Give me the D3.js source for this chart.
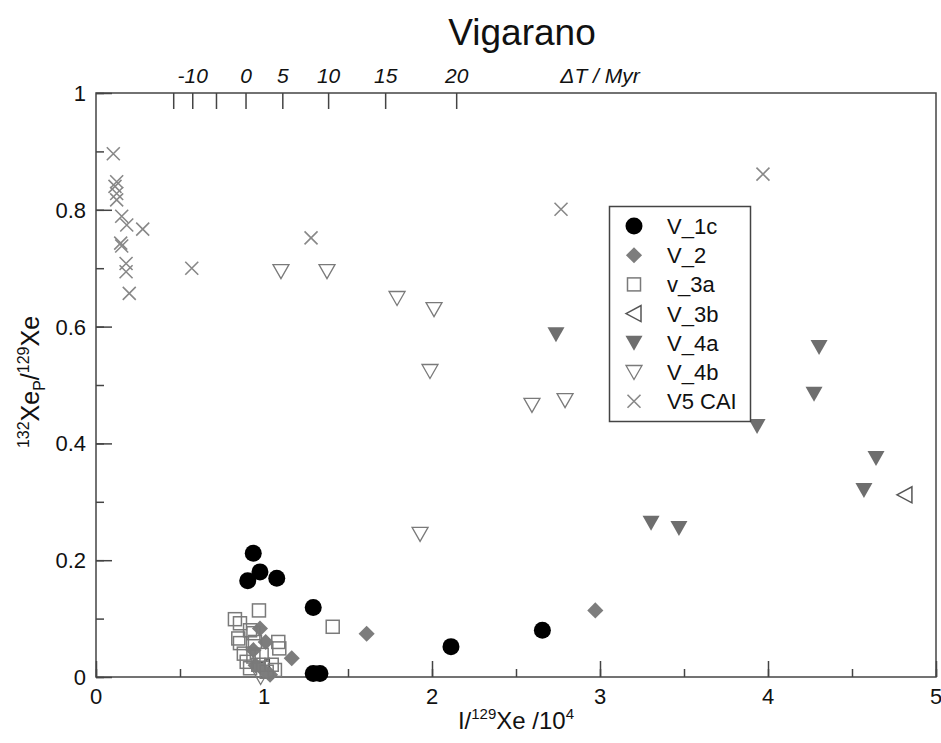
<!DOCTYPE html>
<html><head><meta charset="utf-8">
<script src="https://cdn.jsdelivr.net/npm/d3@7"></script>
<style>body{margin:0;background:#fff}text{font-family:"Liberation Sans",Arial,sans-serif}</style>
</head><body>
<svg id="c" width="941" height="743"></svg>
<script>
// ---- data ----
const V_1c_x = [0.936,0.903,0.976,1.076,1.293,1.293,1.333,2.113,2.657];
const V_1c_y = [0.212,0.165,0.180,0.169,0.119,0.006,0.006,0.052,0.080];
const V_2_x = [0.976,1.165,0.937,0.996,1.036,1.611,2.972,0.95,1.01];
const V_2_y = [0.083,0.032,0.046,0.012,0.004,0.074,0.114,0.020,0.060];
const v_3a_x = [0.970,0.827,0.857,1.409,0.847,0.857,0.937,0.946,1.085,1.091,0.897,0.917,0.937,0.986,1.046,1.065,1.016,0.966,0.917,0.88];
const v_3a_y = [0.114,0.099,0.092,0.086,0.066,0.058,0.075,0.060,0.060,0.049,0.026,0.015,0.035,0.038,0.021,0.012,0.009,0.021,0.080,0.040];
const V_3b_x = [4.815,0.99];
const V_3b_y = [0.312,0.018];
const V_4a_x = [2.738,4.304,4.274,3.935,4.643,4.571,3.304,3.470];
const V_4a_y = [0.587,0.565,0.485,0.430,0.375,0.320,0.264,0.255];
const V_4b_x = [1.101,1.375,1.792,2.012,1.988,2.595,2.792,1.929,0.98];
const V_4b_y = [0.695,0.695,0.649,0.630,0.524,0.466,0.474,0.245,0.0];
const V5_x = [0.103,0.123,0.113,0.123,0.123,0.153,0.183,0.278,0.147,0.153,0.179,0.179,0.198,0.570,1.280,2.768,3.970];
const V5_y = [0.896,0.848,0.840,0.828,0.817,0.789,0.774,0.767,0.743,0.738,0.708,0.694,0.657,0.700,0.752,0.801,0.861];
const seriesNames = ["V_1c","V_2","v_3a","V_3b","V_4a","V_4b","V5 CAI"];
const xTicks = [0,1,2,3,4,5];
const yTicks = [0,0.2,0.4,0.6,0.8,1];
const yTickLabels = ["0","0.2","0.4","0.6","0.8","1"];
const topTicks = [-15,-10,-5,0,5,10,15,20];
const topLabels = [-10,0,5,10,15,20];
const x0 = 0.893, tau = 22.8; // I-Xe age scale: x = x0*exp(dT/tau)

// ---- layout ----
const svg = d3.select("#c");
const L=96,R=936,T=93,B=677;
const x = d3.scaleLinear().domain([0,5]).range([L,R]);
const y = d3.scaleLinear().domain([0,1]).range([B,T]);
const axisCol="#444";

// title
svg.append("text").attr("x",522).attr("y",45).attr("text-anchor","middle")
  .attr("font-size",37).attr("fill","#111").text("Vigarano");

// axes (ticks inward)
const gx = svg.append("g").attr("transform",`translate(0,${B})`)
  .call(d3.axisTop(x).tickValues(d3.range(0,5.01,0.5)).tickSize(8).tickFormat(""));
const gxm = svg.append("g").attr("transform",`translate(0,${B})`)
  .call(d3.axisTop(x).tickValues(xTicks).tickSize(16).tickFormat(""));
const gy = svg.append("g").attr("transform",`translate(${L},0)`)
  .call(d3.axisRight(y).tickValues(d3.range(0,1.001,0.1)).tickSize(8).tickFormat(""));
const gym = svg.append("g").attr("transform",`translate(${L},0)`)
  .call(d3.axisRight(y).tickValues(yTicks).tickSize(16).tickFormat(""));
[gx,gxm,gy,gym].forEach(g=>{g.select(".domain").remove();g.selectAll("line").attr("stroke",axisCol).attr("stroke-width",1.5);});

// frame
svg.append("rect").attr("x",L).attr("y",T).attr("width",R-L).attr("height",B-T)
  .attr("fill","none").attr("stroke",axisCol).attr("stroke-width",1.5);

// tick labels
svg.append("g").selectAll("text").data(xTicks).join("text")
  .attr("x",d=>x(d)).attr("y",B+27).attr("text-anchor","middle").attr("font-size",22).attr("fill","#111").text(d=>d);
svg.append("g").selectAll("text").data(yTicks).join("text")
  .attr("x",L-10).attr("y",d=>y(d)+8).attr("text-anchor","end").attr("font-size",22).attr("fill","#111")
  .text((d,i)=>yTickLabels[i]);

// top ΔT axis
const tx = t => x(x0*Math.exp(t/tau));
svg.append("g").selectAll("line").data(topTicks).join("line")
  .attr("x1",tx).attr("x2",tx).attr("y1",T).attr("y2",T+16).attr("stroke",axisCol).attr("stroke-width",1.5);
svg.append("g").selectAll("text").data(topLabels).join("text")
  .attr("x",tx).attr("y",T-10).attr("text-anchor","middle").attr("font-size",21).attr("font-style","italic")
  .attr("fill","#111").text(d=>d);
svg.append("text").attr("x",600).attr("y",T-10).attr("text-anchor","middle").attr("font-size",21)
  .attr("font-style","italic").attr("fill","#111").text("\u0394T / Myr");

// axis titles
const xl = svg.append("text").attr("x",516).attr("y",729).attr("text-anchor","middle").attr("font-size",24).attr("fill","#111");
xl.append("tspan").text("I/");
xl.append("tspan").attr("font-size",15).attr("dy",-10).text("129");
xl.append("tspan").attr("dy",10).text("Xe /10");
xl.append("tspan").attr("font-size",15).attr("dy",-10).text("4");
const yl = svg.append("text").attr("transform","translate(39,382) rotate(-90)").attr("text-anchor","middle").attr("font-size",25).attr("fill","#111");
yl.append("tspan").attr("font-size",16).attr("dy",-10).text("132");
yl.append("tspan").attr("dy",10).text("Xe");
yl.append("tspan").attr("font-size",16).attr("dy",6).text("P");
yl.append("tspan").attr("dy",-6).text("/");
yl.append("tspan").attr("font-size",16).attr("dy",-10).text("129");
yl.append("tspan").attr("dy",10).text("Xe");

// markers
const gray="#7a7a7a";
function marker(g,type){
  if(type==="circle") g.append("circle").attr("r",8.5).attr("fill","#000");
  else if(type==="diamond") g.append("path").attr("d",d3.symbol(d3.symbolSquare,130)()).attr("transform","rotate(45)").attr("fill","#7d7d7d");
  else if(type==="square") g.append("rect").attr("x",-6.5).attr("y",-6.5).attr("width",13).attr("height",13).attr("fill","none").attr("stroke",gray).attr("stroke-width",1.5);
  else if(type==="left") g.append("path").attr("d","M-8,0L7,-8L7,8Z").attr("fill","none").attr("stroke","#555").attr("stroke-width",1.5);
  else if(type==="downFill") g.append("path").attr("d","M-8.5,-7L8.5,-7L0,8Z").attr("fill","#6e6e6e");
  else if(type==="downOpen") g.append("path").attr("d","M-8,-6.5L8,-6.5L0,7.5Z").attr("fill","none").attr("stroke",gray).attr("stroke-width",1.3);
  else if(type==="cross") g.append("path").attr("d","M-6.5,-6.5L6.5,6.5M-6.5,6.5L6.5,-6.5").attr("stroke","#888").attr("stroke-width",1.6);
}
const series = [
  {xs:V_1c_x,ys:V_1c_y,t:"circle"},
  {xs:V_2_x,ys:V_2_y,t:"diamond"},
  {xs:v_3a_x,ys:v_3a_y,t:"square"},
  {xs:V_3b_x,ys:V_3b_y,t:"left"},
  {xs:V_4a_x,ys:V_4a_y,t:"downFill"},
  {xs:V_4b_x,ys:V_4b_y,t:"downOpen"},
  {xs:V5_x,ys:V5_y,t:"cross"}
];
const drawOrder=[6,5,4,3,1,2,0];
drawOrder.forEach(si=>{
  const s=series[si];
  s.xs.forEach((xv,i)=>{
    const g=svg.append("g").attr("transform",`translate(${x(xv)},${y(s.ys[i])})`);
    marker(g,s.t);
  });
});

// legend
svg.append("rect").attr("x",609.5).attr("y",206.5).attr("width",141).attr("height",215)
  .attr("fill","#fff").attr("stroke",axisCol).attr("stroke-width",1.5);
seriesNames.forEach((n,i)=>{
  const cy=226+i*29.2;
  const g=svg.append("g").attr("transform",`translate(634,${cy})`);
  marker(g,series[i].t);
  svg.append("text").attr("x",667).attr("y",cy+8).attr("font-size",22).attr("fill","#111").text(n);
});
</script>
</body></html>
